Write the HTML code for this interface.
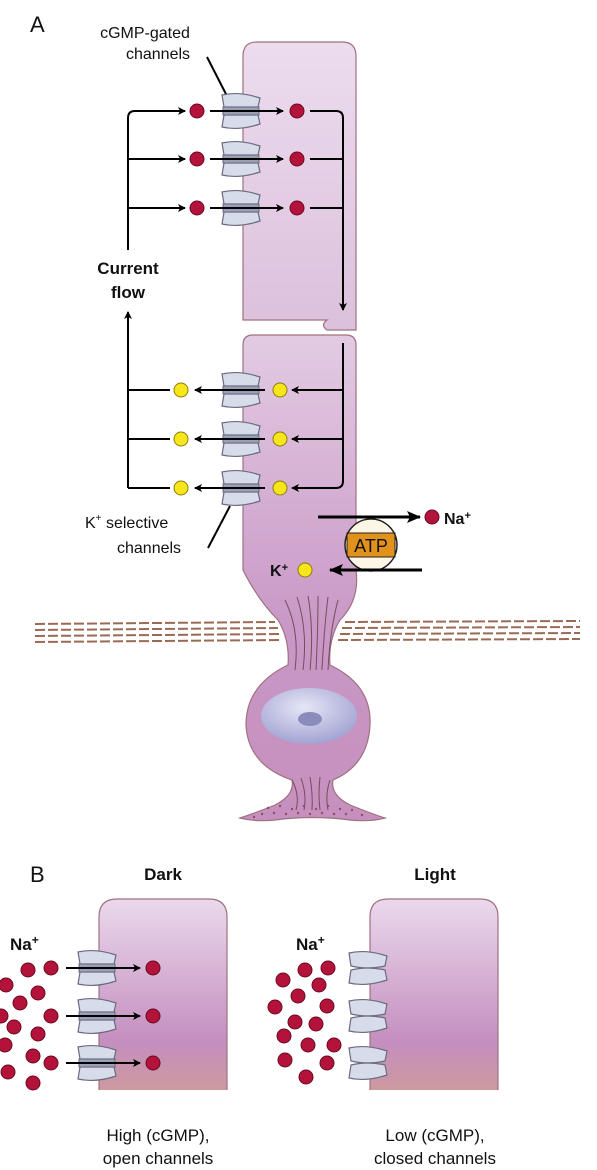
<!DOCTYPE html>
<html><head><meta charset="utf-8"><style>
html,body{margin:0;padding:0;background:#fff;width:597px;height:1170px;overflow:hidden}
svg{display:block}
text{font-family:"Liberation Sans",sans-serif;fill:#111}
</style></head><body>
<svg width="597" height="1170" viewBox="0 0 597 1170">
<defs>
<linearGradient id="os" x1="0" y1="0" x2="0" y2="1">
<stop offset="0" stop-color="#ecdcee"/><stop offset="1" stop-color="#dcc0dc"/></linearGradient>
<linearGradient id="is" x1="0" y1="0" x2="0" y2="1">
<stop offset="0" stop-color="#e3cbe3"/><stop offset="0.6" stop-color="#c998c6"/><stop offset="1" stop-color="#c590be"/></linearGradient>
<linearGradient id="bc" x1="0" y1="0" x2="0" y2="1">
<stop offset="0" stop-color="#ead9ec"/><stop offset="0.75" stop-color="#c48ebf"/><stop offset="1" stop-color="#cc9a9e"/></linearGradient>
<radialGradient id="nuc" cx="0.45" cy="0.35" r="0.7"><stop offset="0" stop-color="#e6e6f6"/><stop offset="1" stop-color="#9d9fd0"/></radialGradient>
<marker id="ah" markerWidth="8" markerHeight="8" refX="7" refY="4" orient="auto" markerUnits="userSpaceOnUse"><path d="M0,0 L8,4 L0,8 L2,4Z" fill="#000"/></marker>
<marker id="ahb" markerWidth="14" markerHeight="12" refX="13" refY="6" orient="auto" markerUnits="userSpaceOnUse"><path d="M0,0 L14,6 L0,12 L3,6Z" fill="#000"/></marker>
<g id="chan">
<path d="M-19,-16 Q-2,-20 19,-13 L17,-4 L-17,-4 Z" fill="#d7dcea" stroke="#6c6a80" stroke-width="1.2"/>
<path d="M-19,16 Q-2,20 19,13 L17,4 L-17,4 Z" fill="#d7dcea" stroke="#6c6a80" stroke-width="1.2"/>
<rect x="-18" y="-4" width="36" height="8" fill="#9aa0b6" stroke="#6c6a80" stroke-width="1"/>
</g>
<g id="chanc">
<path d="M-19,-15 Q-2,-19 19,-12 L17,-2 Q0,2 -17,-2 Z" fill="#d7dcea" stroke="#6c6a80" stroke-width="1.2"/>
<path d="M-19,15 Q-2,19 19,12 L17,2 Q0,-2 -17,2 Z" fill="#d7dcea" stroke="#6c6a80" stroke-width="1.2"/>
</g>
<circle id="na" r="7" fill="#b3123a" stroke="#6b0b22" stroke-width="1"/>
<circle id="k" r="7" fill="#f6e61a" stroke="#8c7b10" stroke-width="1"/>
</defs>

<text x="30" y="32" font-size="22">A</text>

<!-- outer segment -->
<path d="M243,56 Q243,42 257,42 L342,42 Q356,42 356,56 L356,330 L327,330 Q320,325 327,320 L243,320 Z" fill="url(#os)" stroke="#a0707f" stroke-width="1.2"/>
<!-- inner segment body -->
<path d="M243,345 Q243,335 253,335 L346,335 Q356,335 356,345 L356,570 Q360,600 340,620 Q328,640 330,665 Q372,685 370,725 Q368,765 333,780 Q330,795 350,805 Q375,815 385,818 Q370,822 350,820 Q312,815 275,820 Q255,822 240,818 Q258,812 275,805 Q295,795 292,780 Q248,765 246,725 Q246,685 288,665 Q290,640 278,620 Q258,600 243,570 Z" fill="url(#is)" stroke="#a0707f" stroke-width="1.2"/>
<g stroke="#7a4a5e" stroke-width="1" fill="none">
<path d="M285,600 Q300,630 295,670"/><path d="M297,597 Q308,630 303,670"/><path d="M308,596 Q314,630 310,670"/><path d="M318,596 Q318,630 316,670"/><path d="M328,597 Q324,630 322,670"/><path d="M338,600 Q330,630 328,670"/>
<path d="M292,780 Q300,795 296,810"/><path d="M301,778 Q307,795 304,810"/><path d="M310,777 Q313,795 312,810"/><path d="M320,777 Q318,795 320,810"/><path d="M330,780 Q325,795 328,810"/>
</g>
<ellipse cx="309" cy="716" rx="48" ry="28" fill="url(#nuc)"/>
<ellipse cx="310" cy="719" rx="12" ry="7" fill="#8a8cbc"/>
<g fill="#8a4e66">
<circle cx="268" cy="808" r="1.2"/><circle cx="280" cy="806" r="1.2"/><circle cx="292" cy="809" r="1.2"/><circle cx="304" cy="806" r="1.2"/><circle cx="316" cy="809" r="1.2"/><circle cx="328" cy="806" r="1.2"/><circle cx="340" cy="809" r="1.2"/><circle cx="352" cy="810" r="1.2"/><circle cx="262" cy="814" r="1.2"/><circle cx="274" cy="813" r="1.2"/><circle cx="286" cy="814" r="1.2"/><circle cx="298" cy="813" r="1.2"/><circle cx="310" cy="814" r="1.2"/><circle cx="322" cy="813" r="1.2"/><circle cx="334" cy="814" r="1.2"/><circle cx="346" cy="814" r="1.2"/><circle cx="362" cy="815" r="1.2"/><circle cx="254" cy="817" r="1.2"/>
</g>
<!-- membrane dashes -->
<g stroke="#9a6a55" stroke-width="2" stroke-dasharray="10,3">
<line x1="35" y1="624" x2="275" y2="622"/><line x1="35" y1="630" x2="278" y2="628"/><line x1="35" y1="636" x2="280" y2="634"/><line x1="35" y1="642" x2="282" y2="640"/>
<line x1="345" y1="622" x2="580" y2="621"/><line x1="342" y1="628" x2="580" y2="627"/><line x1="340" y1="634" x2="580" y2="633"/><line x1="338" y1="640" x2="580" y2="639"/>
</g>

<!-- circuit -->
<g stroke="#000" stroke-width="2" fill="none">
<path d="M128,250 L128,118 Q128,111 135,111 L185,111" marker-end="url(#ah)"/>
<path d="M128,159 L185,159" marker-end="url(#ah)"/>
<path d="M128,208 L185,208" marker-end="url(#ah)"/>
<path d="M310,111 L336,111 Q343,111 343,118 L343,310" marker-end="url(#ah)"/>
<path d="M310,159 L343,159"/><path d="M310,208 L343,208"/>
<path d="M128,488 L128,312" marker-end="url(#ah)"/>
<path d="M343,343 L343,481 Q343,488 336,488 L292,488" marker-end="url(#ah)"/>
<path d="M343,390 L292,390" marker-end="url(#ah)"/><path d="M343,439 L292,439" marker-end="url(#ah)"/>
<path d="M170,390 L128,390"/><path d="M170,439 L128,439"/><path d="M170,488 L128,488"/>
<path d="M207,57 L228,98"/><path d="M230,506 L208,548"/>
</g>
<text x="128" y="274" font-size="17" font-weight="bold" text-anchor="middle">Current</text>
<text x="128" y="298" font-size="17" font-weight="bold" text-anchor="middle">flow</text>
<text x="145" y="38" font-size="16" text-anchor="middle">cGMP-gated</text>
<text x="158" y="59" font-size="16" text-anchor="middle">channels</text>
<text x="85" y="528" font-size="16">K<tspan font-size="10" dy="-7">+</tspan><tspan dy="7"> selective</tspan></text>
<text x="117" y="553" font-size="16">channels</text>

<g>
<use href="#chan" x="241" y="111"/><use href="#chan" x="241" y="159"/><use href="#chan" x="241" y="208"/>
</g>
<g stroke="#000" stroke-width="2">
<line x1="210" y1="111" x2="283" y2="111" marker-end="url(#ah)"/><line x1="210" y1="159" x2="283" y2="159" marker-end="url(#ah)"/><line x1="210" y1="208" x2="283" y2="208" marker-end="url(#ah)"/>
</g>
<g>
<use href="#na" x="197" y="111"/><use href="#na" x="297" y="111"/><use href="#na" x="197" y="159"/><use href="#na" x="297" y="159"/><use href="#na" x="197" y="208"/><use href="#na" x="297" y="208"/>
</g>
<g>
<use href="#chan" x="241" y="390"/><use href="#chan" x="241" y="439"/><use href="#chan" x="241" y="488"/>
</g>
<g stroke="#000" stroke-width="2">
<line x1="265" y1="390" x2="195" y2="390" marker-end="url(#ah)"/><line x1="265" y1="439" x2="195" y2="439" marker-end="url(#ah)"/><line x1="265" y1="488" x2="195" y2="488" marker-end="url(#ah)"/>
</g>
<g>
<use href="#k" x="181" y="390"/><use href="#k" x="280" y="390"/><use href="#k" x="181" y="439"/><use href="#k" x="280" y="439"/><use href="#k" x="181" y="488"/><use href="#k" x="280" y="488"/>
</g>

<!-- pump -->
<g>
<line x1="318" y1="517" x2="420" y2="517" stroke="#000" stroke-width="3" marker-end="url(#ahb)"/>
<circle cx="371" cy="545" r="26" fill="#fdf6e6" stroke="#222" stroke-width="1.3"/>
<path d="M347,533 L395,533 L395,557 L347,557 Z" fill="#e1921c" stroke="#222" stroke-width="1"/>
<circle cx="371" cy="545" r="26" fill="none" stroke="#222" stroke-width="1.3"/>
<text x="371" y="552" font-size="18" text-anchor="middle">ATP</text>
<line x1="422" y1="570" x2="330" y2="570" stroke="#000" stroke-width="3" marker-end="url(#ahb)"/>
<use href="#na" x="432" y="517"/><use href="#k" x="305" y="570"/>
<text x="444" y="524" font-size="16" font-weight="bold">Na<tspan font-size="11" dy="-5">+</tspan></text>
<text x="270" y="576" font-size="16" font-weight="bold">K<tspan font-size="11" dy="-5">+</tspan></text>
</g>

<!-- Panel B -->
<text x="30" y="882" font-size="22">B</text>
<text x="163" y="880" font-size="17" font-weight="bold" text-anchor="middle">Dark</text>
<text x="435" y="880" font-size="17" font-weight="bold" text-anchor="middle">Light</text>
<path d="M99,1090 L99,917 Q99,899 117,899 L209,899 Q227,899 227,917 L227,1090" fill="url(#bc)" stroke="#a0707f" stroke-width="1.2"/>
<path d="M370,1090 L370,917 Q370,899 388,899 L480,899 Q498,899 498,917 L498,1090" fill="url(#bc)" stroke="#a0707f" stroke-width="1.2"/>
<text x="10" y="950" font-size="17" font-weight="bold">Na<tspan font-size="12" dy="-6">+</tspan></text>
<text x="296" y="950" font-size="17" font-weight="bold">Na<tspan font-size="12" dy="-6">+</tspan></text>
<g><use href="#chan" x="97" y="968"/><use href="#chan" x="97" y="1016"/><use href="#chan" x="97" y="1063"/></g>
<g stroke="#000" stroke-width="2"><line x1="66" y1="968" x2="140" y2="968" marker-end="url(#ah)"/><line x1="66" y1="1016" x2="140" y2="1016" marker-end="url(#ah)"/><line x1="66" y1="1063" x2="140" y2="1063" marker-end="url(#ah)"/></g>
<g><use href="#chanc" x="368" y="968"/><use href="#chanc" x="368" y="1016"/><use href="#chanc" x="368" y="1063"/></g>
<g>
<use href="#na" x="153" y="968"/><use href="#na" x="153" y="1016"/><use href="#na" x="153" y="1063"/>
<use href="#na" x="28" y="970"/><use href="#na" x="51" y="968"/><use href="#na" x="6" y="985"/><use href="#na" x="38" y="993"/><use href="#na" x="20" y="1003"/><use href="#na" x="1" y="1016"/><use href="#na" x="51" y="1016"/><use href="#na" x="14" y="1027"/><use href="#na" x="38" y="1034"/><use href="#na" x="5" y="1045"/><use href="#na" x="33" y="1056"/><use href="#na" x="51" y="1063"/><use href="#na" x="8" y="1072"/><use href="#na" x="33" y="1083"/>
</g>
<g>
<use href="#na" x="305" y="970"/><use href="#na" x="328" y="968"/><use href="#na" x="283" y="980"/><use href="#na" x="319" y="985"/><use href="#na" x="298" y="996"/><use href="#na" x="327" y="1006"/><use href="#na" x="275" y="1007"/><use href="#na" x="295" y="1022"/><use href="#na" x="316" y="1024"/><use href="#na" x="284" y="1036"/><use href="#na" x="308" y="1045"/><use href="#na" x="334" y="1045"/><use href="#na" x="285" y="1060"/><use href="#na" x="327" y="1063"/><use href="#na" x="306" y="1077"/>
</g>
<text x="158" y="1141" font-size="17" text-anchor="middle">High (cGMP),</text>
<text x="158" y="1164" font-size="17" text-anchor="middle">open channels</text>
<text x="435" y="1141" font-size="17" text-anchor="middle">Low (cGMP),</text>
<text x="435" y="1164" font-size="17" text-anchor="middle">closed channels</text>
</svg>
</body></html>
